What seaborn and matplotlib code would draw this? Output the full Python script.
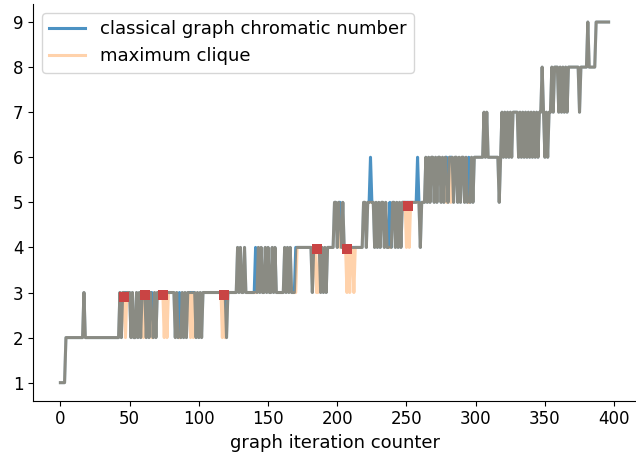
import numpy as np
import pandas as pd
import matplotlib
matplotlib.use("Agg")
import matplotlib.pyplot as plt
import seaborn as sns

# classical graph chromatic number, one digit per graph iteration (0..396), groups of 10
chromatic_blocks = [
    "1111222222 2222222322 2222222222 2222222222 2223233333",
    "3232232323 3323233232 3333333333 3332323232 3233333323",
    "2323333333 3333333333 2333333343 4334333333 3434343343",
    "4334343333 3343434333 4444444444 4434444434 3434444455",
    "4554544444 4444444445 5455655454 5455454454 5545454555",
    "5555555565 4555656566 5656656566 5666566565 6656565656",
    "6666667676 6666666567 6767676777 7676767676 7676767787",
    "6767787888 7878787888 8888878888 8988888999 9999999",
]
# maximum clique size per iteration
clique_blocks = [
    "1111222222 2222222322 2222222222 2222222222 2223233233",
    "3232232323 2323232232 3333323233 3332322232 3233232323",
    "2323333333 3333333232 2333333343 4334333333 3334343343",
    "4334343333 3343434333 3444444444 4434433434 3434444455",
    "4544544343 4434444445 5455555454 5455454444 5545454555",
    "4545555555 4555656566 5656656565 5656566565 6656555656",
    "6666667676 6666666567 6767676777 7676767676 7676767787",
    "6767787888 7878787888 8888878888 8988888999 9999999",
]
chromatic = [int(c) for b in chromatic_blocks for c in b if c.isdigit()]
clique = [int(c) for b in clique_blocks for c in b if c.isdigit()]
iteration = list(range(len(chromatic)))

# highlighted iterations (red squares)
marked_x = [46, 61, 74, 118, 185, 207, 251]
marked_y = [2.9, 2.95, 2.95, 2.95, 3.96, 3.96, 4.93]

df = pd.DataFrame({"iteration": iteration, "chromatic": chromatic, "clique": clique})
marks = pd.DataFrame({"x": marked_x, "y": marked_y})

plt.rcParams["font.size"] = 12

fig = plt.figure(figsize=(6.36, 4.57), dpi=100)
ax = fig.add_axes([33/636, 56.3/457, 603/636, 396.7/457])

sns.lineplot(data=df, x="iteration", y="chromatic", ax=ax, color="C0", alpha=0.8,
             linewidth=2.2, label="classical graph chromatic number")
sns.lineplot(data=df, x="iteration", y="clique", ax=ax, color="C1", alpha=0.35,
             linewidth=2.2, label="maximum clique")
sns.scatterplot(data=marks, x="x", y="y", ax=ax, marker="s", color="#c94444",
                s=60, linewidth=0, zorder=5)

ax.set_xlabel("graph iteration counter", fontsize=13)
ax.set_ylabel("")
ax.set_xticks([0, 50, 100, 150, 200, 250, 300, 350, 400])
ax.set_yticks(range(1, 10))
ax.tick_params(labelsize=12)
ax.legend(loc="upper left", fontsize=13)
sns.despine(ax=ax)

fig.savefig("out.png", dpi=100)
